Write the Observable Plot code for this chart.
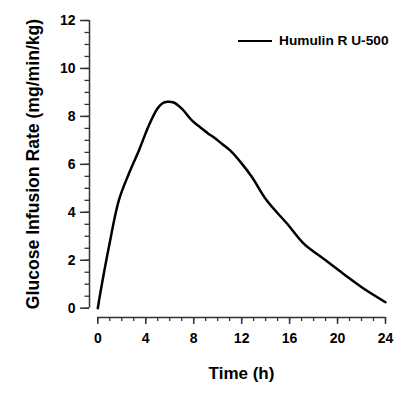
<!DOCTYPE html>
<html>
<head>
<meta charset="utf-8">
<script src="https://cdn.jsdelivr.net/npm/d3@7"></script>
<script src="https://cdn.jsdelivr.net/npm/@observablehq/plot@0.6"></script>
<style>
  html, body { margin: 0; padding: 0; background: #fff; }
  #wrap { position: relative; width: 409px; height: 396px; font-family: "Liberation Sans", Arial, sans-serif; }
  #legend { position: absolute; left: 238px; top: 33px; display: flex; align-items: center; font-weight: bold; font-size: 13.7px; color: #000; white-space: nowrap; }
  #legend .sw { width: 34px; height: 0; border-top: 2.4px solid #000; margin-right: 7px; }
</style>
</head>
<body>
<div id="wrap"><div id="legend"><span class="sw"></span><span id="legtext"></span></div></div>
<script>
const seriesName = "Humulin R U-500";
const timeH = [0, 0.2, 0.92, 1.75, 2.58, 3.42, 4.25, 4.95, 5.4, 5.8, 6.33, 7.03, 7.87, 8.56, 9.25, 9.67, 10.37, 11.06, 12.03, 12.87, 14.1, 15.8, 17.2, 18.83, 20.5, 22.2, 24];
const gir   = [0, 0.6, 2.54, 4.49, 5.6, 6.57, 7.61, 8.31, 8.55, 8.61, 8.58, 8.31, 7.82, 7.54, 7.27, 7.13, 6.85, 6.57, 6.02, 5.46, 4.49, 3.52, 2.68, 2.06, 1.43, 0.81, 0.25];
const xMajor = [0, 4, 8, 12, 16, 20, 24];
const xMinor = d3.range(0, 25, 1);
const yMajor = [0, 2, 4, 6, 8, 10, 12];
const yMinor = d3.range(0, 12.01, 0.5);
const xTitle = "Time (h)";
const yTitle = "Glucose Infusion Rate (mg/min/kg)";

const data = timeH.map((t, i) => ({t, v: gir[i]}));
document.getElementById("legtext").textContent = seriesName;

const axisColor = "#333";
const tickFont = 14;
const chart = Plot.plot({
  width: 409,
  height: 396,
  marginLeft: 89,
  marginRight: 24,
  marginTop: 20,
  marginBottom: 79,
  style: {fontFamily: "'Liberation Sans', Arial, sans-serif", fontSize: "14px", fontWeight: "bold", color: "#000", background: "#fff"},
  x: {domain: [0, 24], range: [97.3, 385]},
  y: {domain: [0, 12], range: [307.7, 20]},
  marks: [
    Plot.ruleX([0], {y1: 0, y2: 12, dx: -8.3, stroke: axisColor, strokeWidth: 1.5}),
    Plot.ruleY([0], {x1: 0, x2: 24, dy: 9.3, stroke: axisColor, strokeWidth: 1.5}),
    Plot.axisY({ticks: yMinor, tickSize: 4.5, tickFormat: () => "", label: null, stroke: axisColor, strokeWidth: 1.3}),
    Plot.axisY({ticks: yMajor, tickSize: 9, tickPadding: 5, tickFormat: d => String(d), label: null, stroke: axisColor, strokeWidth: 1.5, fill: "#000", fontSize: tickFont, fontWeight: "bold"}),
    Plot.axisX({ticks: xMinor, tickSize: 4, tickFormat: () => "", label: null, stroke: axisColor, strokeWidth: 1.3}),
    Plot.axisX({ticks: xMajor, tickSize: 7, tickPadding: 9, tickFormat: d => String(d), label: null, stroke: axisColor, strokeWidth: 1.5, fill: "#000", fontSize: tickFont, fontWeight: "bold"}),
    Plot.line(data, {x: "t", y: "v", curve: "catmull-rom", stroke: "#000", strokeWidth: 2.5}),
    Plot.text([yTitle], {frameAnchor: "left", rotate: -90, textAnchor: "middle", lineAnchor: "middle", dx: -56, dy: -5, fontSize: 17.6, fontWeight: "bold", fill: "#000"}),
    Plot.text([xTitle], {frameAnchor: "bottom", textAnchor: "middle", lineAnchor: "middle", dx: 4, dy: 56, fontSize: 17, fontWeight: "bold", fill: "#000"})
  ]
});
document.getElementById("wrap").prepend(chart);
</script>
</body>
</html>
